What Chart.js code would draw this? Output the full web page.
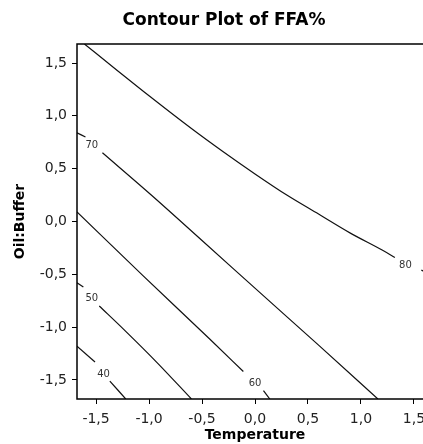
<!DOCTYPE html>
<html>
<head>
<meta charset="utf-8">
<script src="https://cdn.jsdelivr.net/npm/chart.js@4"></script>
<style>
  body { margin: 0; background: #fff; overflow: hidden; }
  #wrap { width: 433px; height: 444px; }
</style>
</head>
<body>
<div id="wrap"><canvas id="grafico" width="433" height="444"></canvas></div>
<script>
// contour levels, each line as [Temperature, Oil:Buffer] points, null = gap for the label
var level80 = [[-1.61, 1.68], [-1.30, 1.43], [-1.00, 1.19], [-0.60, 0.88], [-0.30, 0.66], [0.00, 0.45], [0.30, 0.25], [0.60, 0.07], [0.90, -0.11], [1.20, -0.27], [1.32, -0.34], null, [1.57, -0.46], [1.68, -0.51]];
var level70 = [[-1.68, 0.84], [-1.60, 0.80], null, [-1.44, 0.65], [-0.99, 0.26], [-0.50, -0.18], [0.11, -0.73], [0.60, -1.17], [1.16, -1.68]];
var level60 = [[-1.68, 0.09], [-1.06, -0.51], [-0.43, -1.11], [-0.11, -1.42], null, [0.08, -1.60], [0.14, -1.68]];
var level50 = [[-1.68, -0.58], [-1.62, -0.62], null, [-1.47, -0.80], [-1.22, -1.04], [-0.92, -1.34], [-0.60, -1.68]];
var level40 = [[-1.68, -1.18], [-1.51, -1.33], null, [-1.37, -1.51], [-1.22, -1.68]];

var levelNames = ['80', '70', '60', '50', '40'];
var levelLines = [level80, level70, level60, level50, level40];
var labelX = [1.42, -1.54, 0.00, -1.54, -1.43];
var labelY = [-0.42, 0.72, -1.53, -0.73, -1.45];

var tickValues = [-1.5, -1.0, -0.5, 0.0, 0.5, 1.0, 1.5];

var titulo = 'Contour Plot of FFA%';

function montarDatasets() {
    var lista = [];
    levelLines.forEach(function (linha, i) {
        var trecho = [];
        linha.forEach(function (p) {
            if (p === null) {
                lista.push(novoTrecho(levelNames[i], trecho));
                trecho = [];
            } else {
                trecho.push({ x: p[0], y: p[1] });
            }
        });
        if (trecho.length) lista.push(novoTrecho(levelNames[i], trecho));
    });
    return lista;
}

function novoTrecho(nome, pontos) {
    return {
        label: nome,
        data: pontos,
        showLine: true,
        borderColor: '#111',
        borderWidth: 1.2,
        pointRadius: 0,
        cubicInterpolationMode: 'monotone'
    };
}

function virgula(v) {
    return Number(v).toFixed(1).replace('.', ',');
}

// title, frame and contour labels
var moldura = {
    id: 'moldura',
    afterDatasetsDraw: function (chart) {
        var ctx = chart.ctx;
        var xs = chart.scales.x;
        var ys = chart.scales.y;
        ctx.save();
        ctx.fillStyle = '#333';
        ctx.font = '10px "DejaVu Sans"';
        ctx.textAlign = 'center';
        ctx.textBaseline = 'middle';
        levelNames.forEach(function (nome, i) {
            ctx.fillText(nome, xs.getPixelForValue(labelX[i]), ys.getPixelForValue(labelY[i]));
        });
        ctx.restore();
    },
    afterDraw: function (chart) {
        var a = chart.chartArea;
        var ctx = chart.ctx;
        ctx.save();
        ctx.strokeStyle = '#000';
        ctx.lineWidth = 1.5;
        ctx.strokeRect(a.left, a.top, a.right - a.left, a.bottom - a.top);
        ctx.fillStyle = '#000';
        ctx.font = 'bold 17px "DejaVu Sans"';
        ctx.textAlign = 'center';
        ctx.textBaseline = 'middle';
        ctx.fillText(titulo, 224, 21);
        ctx.restore();
    }
};

var eixo = {
    grid: { drawOnChartArea: false, drawTicks: true, tickLength: 5, color: '#000', lineWidth: 1 },
    border: { display: false }
};

var graf = document.getElementById('grafico').getContext('2d');

var grafico = new Chart(graf, {
    type: 'scatter',
    data: { datasets: montarDatasets() },
    options: {
        responsive: false,
        animation: false,
        devicePixelRatio: 1,
        layout: { padding: { top: 44 } },
        plugins: {
            legend: { display: false },
            tooltip: { enabled: false },
            title: { display: false }
        },
        scales: {
            x: Object.assign({}, eixo, {
                type: 'linear',
                min: -1.68,
                max: 1.68,
                afterBuildTicks: function (s) {
                    s.ticks = tickValues.map(function (v) { return { value: v }; });
                },
                afterFit: function (s) { s.height = 45; },
                ticks: {
                    color: '#222',
                    padding: 7,
                    maxRotation: 0,
                    font: { family: 'DejaVu Sans', size: 14 },
                    callback: function (v) { return virgula(v); }
                },
                title: {
                    display: true,
                    text: 'Temperature',
                    color: '#000',
                    font: { family: 'DejaVu Sans', size: 14, weight: 'bold' },
                    padding: 0
                }
            }),
            y: Object.assign({}, eixo, {
                type: 'linear',
                min: -1.68,
                max: 1.68,
                afterBuildTicks: function (s) {
                    s.ticks = tickValues.map(function (v) { return { value: v }; });
                },
                afterFit: function (s) { s.width = 77; },
                ticks: {
                    color: '#222',
                    padding: 5,
                    font: { family: 'DejaVu Sans', size: 14 },
                    callback: function (v) { return virgula(v); }
                },
                title: {
                    display: true,
                    text: 'Oil:Buffer',
                    color: '#000',
                    font: { family: 'DejaVu Sans', size: 14, weight: 'bold' },
                    padding: { top: 12, bottom: 0 }
                }
            })
        }
    },
    plugins: [moldura]
});
</script>
</body>
</html>
